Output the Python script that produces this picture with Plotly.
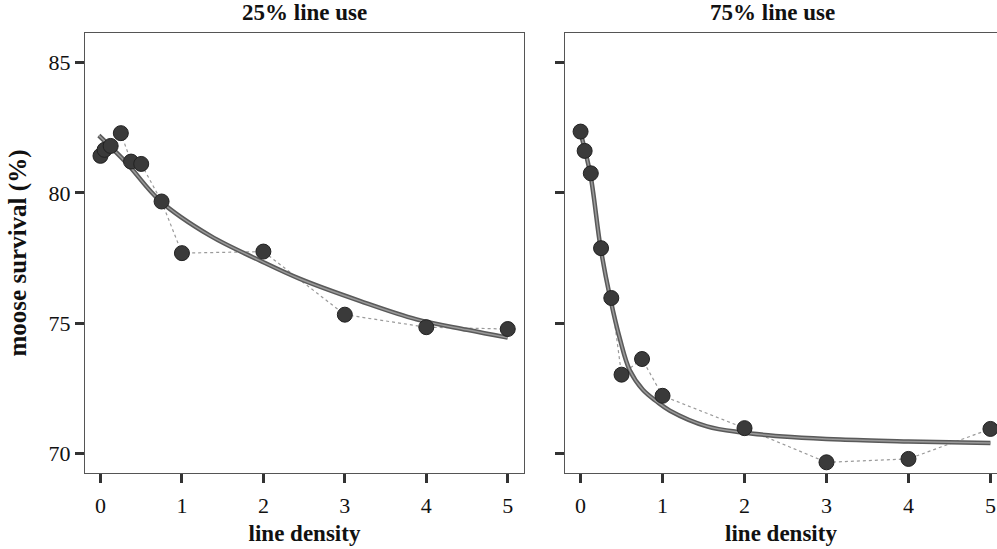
import plotly.graph_objects as go
from plotly.subplots import make_subplots

# observed points
x_obs = [0, 0.05, 0.125, 0.25, 0.375, 0.5, 0.75, 1, 2, 3, 4, 5]
y25_obs = [81.42, 81.65, 81.80, 82.29, 81.20, 81.11, 79.67, 77.69, 77.75, 75.33, 74.85, 74.78]
y75_obs = [82.35, 81.61, 80.75, 77.88, 75.97, 73.03, 73.63, 72.22, 70.98, 69.67, 69.80, 70.95]

# fitted curves
x25_fit = [-0.02, 0.32, 0.73, 1.35, 1.96, 2.45, 3.19, 3.88, 4.5, 5.0]
y25_fit = [82.2, 81.15, 79.7, 78.35, 77.4, 76.7, 75.85, 75.15, 74.75, 74.45]
x75_fit = [0, 0.12, 0.244, 0.366, 0.48, 0.6, 0.76, 0.93, 1.09, 1.54, 1.95, 2.57, 3.17, 4.0, 5.0]
y75_fit = [82.3, 80.7, 77.9, 75.9, 74.4, 73.2, 72.45, 72.0, 71.65, 71.05, 70.82, 70.64, 70.54, 70.47, 70.41]

panel_titles = ["25% line use", "75% line use"]
x_ticks = [0, 1, 2, 3, 4, 5]
y_ticks = [70, 75, 80, 85]

SERIF = "Liberation Serif, Times New Roman, serif"

fig = make_subplots(rows=1, cols=2, horizontal_spacing=0.045)

for col, (yo, xf, yf) in enumerate([(y25_obs, x25_fit, y25_fit), (y75_obs, x75_fit, y75_fit)], start=1):
    fig.add_trace(go.Scatter(x=x_obs, y=yo, mode="lines",
                             line=dict(color="#9a9a9a", width=1.2, dash="dot"),
                             showlegend=False, hoverinfo="skip"), row=1, col=col)
    fig.add_trace(go.Scatter(x=xf, y=yf, mode="lines", line_shape="spline",
                             line=dict(color="#5a5a5a", width=4.5),
                             showlegend=False), row=1, col=col)
    fig.add_trace(go.Scatter(x=xf, y=yf, mode="lines", line_shape="spline",
                             line=dict(color="#9a9a9a", width=1.5),
                             showlegend=False), row=1, col=col)
    fig.add_trace(go.Scatter(x=x_obs, y=yo, mode="markers",
                             marker=dict(color="#3a3a3a", size=15,
                                         line=dict(color="#222", width=1)),
                             showlegend=False), row=1, col=col)

axis_common = dict(showgrid=False, zeroline=False, showline=True, linecolor="#555", linewidth=1,
                   ticks="outside", ticklen=9, tickwidth=3, tickcolor="#333",
                   tickfont=dict(family=SERIF, size=22, color="#111"))

fig.update_xaxes(**axis_common, tickvals=x_ticks, mirror=True, ticklabelstandoff=4,
                 title=dict(text="<b>line density</b>", font=dict(family=SERIF, size=23, color="#111"), standoff=7))
fig.update_xaxes(range=[-0.19, 5.2], domain=[0, 0.4814], row=1, col=1)
fig.update_xaxes(range=[-0.19, 5.08], domain=[0.5263, 1], row=1, col=2)

fig.update_yaxes(**axis_common, tickvals=y_ticks, range=[69.26, 86.13])
fig.update_yaxes(mirror=True, row=1, col=1,
                 title=dict(text="<b>moose survival (%)</b>", font=dict(family=SERIF, size=25, color="#111"), standoff=14))
fig.update_yaxes(showticklabels=False, row=1, col=2)

fig.add_annotation(text="<b>" + panel_titles[0] + "</b>", xref="x domain", yref="paper",
                   x=0.5, y=1, yanchor="bottom", yshift=6, showarrow=False,
                   font=dict(family=SERIF, size=23, color="#111"))
fig.add_annotation(text="<b>" + panel_titles[1] + "</b>", xref="x2 domain", yref="paper",
                   x=0.48, y=1, yanchor="bottom", yshift=6, showarrow=False,
                   font=dict(family=SERIF, size=23, color="#111"))

fig.update_layout(width=997, height=549, margin=dict(l=85, r=0, t=33, b=76),
                  paper_bgcolor="white", plot_bgcolor="white")

fig.write_html("out.html")
